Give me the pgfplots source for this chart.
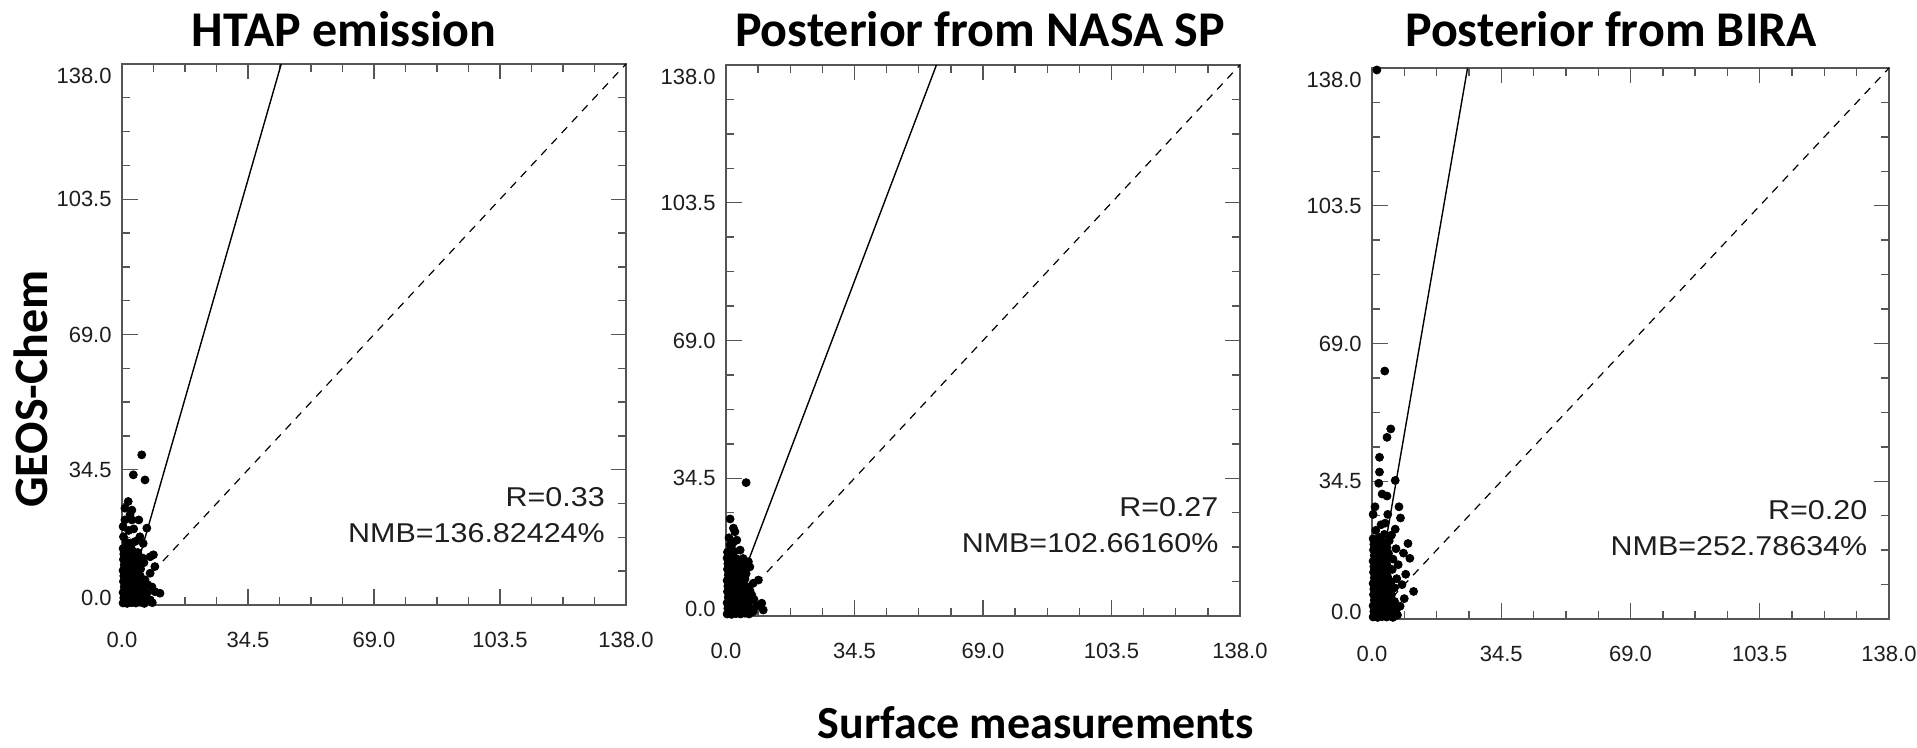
\documentclass[border=0pt]{standalone}
\usepackage{fontspec}
\setmainfont{Liberation Sans}
\newfontfamily\calibri{Carlito}
\newfontfamily\widefont{Liberation Sans}[FakeStretch=1.12]
\usepackage{pgfplots}
\pgfplotsset{compat=1.18}
\definecolor{axgray}{RGB}{85,85,85}
\definecolor{txt}{RGB}{30,30,30}

\pgfplotsset{
  scat/.style={
    scale only axis, clip=false,
    xmin=0, xmax=138, ymin=0, ymax=138,
    xtick={0,34.5,69,103.5,138}, ytick={0,34.5,69,103.5,138},
    xticklabels={0.0,34.5,69.0,103.5,138.0},
    yticklabels={\raisebox{3.75pt}[\height][\depth]{0.0},34.5,69.0,103.5,\raisebox{-6pt}[\height][\depth]{138.0}},
    minor tick num=3,
    tick align=inside, tick pos=both,
    major tick length=7.75pt, minor tick length=4pt,
    axis line style={axgray, line width=0.7pt},
    every tick/.style={axgray, line width=0.7pt},
    ticklabel style={font=\fontsize{11}{12}\selectfont, text=txt, inner sep=0pt},
    xticklabel style={anchor=north, yshift=-13.5pt},
    yticklabel style={anchor=east, xshift=-5pt},
  },
  fit/.style={black, line width=0.7pt},
  oneone/.style={black, line width=0.6pt, dash pattern=on 4pt off 3.5pt},
  dots/.style={only marks, mark=*, mark size=2pt, black},
}
\tikzset{stat/.style={anchor=base east, inner sep=0pt, font=\widefont\fontsize{13.6}{15}\selectfont, text=txt}}

\begin{document}
\begin{tikzpicture}
\useasboundingbox (0,0) rectangle (958.5pt,374pt);

% panel 1
\begin{axis}[scat, at={(61pt,71.5pt)}, anchor=south west, width=252pt, height=270.5pt]
\addplot[fit] coordinates {(1.02,0) (43.6,138)};
\addplot[oneone] coordinates {(0,0) (138,138)};
\addplot[dots] coordinates {
(0.3,0.5) (1.4,0.4) (2.6,0.6) (3.8,0.5) (5.0,0.7) (6.1,0.4)
(0.5,1.8) (1.7,1.9) (2.9,1.7) (4.1,2.0) (5.3,1.8) (6.4,2.1)
(0.3,3.2) (1.5,3.3) (2.7,3.1) (3.9,3.4) (5.1,3.2) (6.2,3.5)
(0.6,4.6) (1.8,4.7) (3.0,4.5) (4.2,4.8) (5.4,4.6)
(0.4,6.0) (1.6,6.1) (2.8,5.9) (4.0,6.2) (5.2,6.0)
(0.5,7.4) (1.7,7.5) (2.9,7.3) (4.1,7.6) (5.0,7.4)
(0.3,8.8) (1.5,8.9) (2.7,8.7) (3.9,9.0) (5.1,9.2)
(0.6,10.2) (1.8,10.3) (3.0,10.1) (4.1,10.4)
(0.4,11.6) (1.6,11.7) (2.8,11.5) (3.9,11.8)
(0.5,13.0) (1.7,13.1) (2.9,12.9) (4.3,13.4)
(0.3,14.4) (1.5,14.5) (2.6,14.3)
(6.3,6.4) (7.7,8.1) (6.8,3.0) (9.0,3.4) (10.4,3.0) (7.7,1.3) (9.0,9.8)
(8.6,12.8) (7.7,12.3) (5.8,15.7) (4.9,17.4) (0.4,17.4) (1.2,16.0) (2.4,15.8)
(3.6,16.2) (6.8,19.6) (0.8,21.7) (2.7,21.7) (4.6,21.7) (0.8,24.7) (2.7,24.2)
(1.7,26.4) (6.3,31.9) (3.1,33.2) (5.4,38.3) (1.8,19.0) (3.2,19.4) (6.0,10.8)
(5.6,12.0) (7.0,5.2) (8.2,4.6) (0.3,20.0) (8.3,0.6) (2.2,23.0)
};
\node[stat] at (axis cs:132.3,25) {R=0.33};
\node[stat] at (axis cs:132.3,16) {NMB=136.82424\%};
\end{axis}

% panel 2
\begin{axis}[scat, at={(363pt,66pt)}, anchor=south west, width=257pt, height=275.5pt]
\addplot[fit] coordinates {(0.39,0) (56.5,138)};
\addplot[oneone] coordinates {(0,0) (138,138)};
\addplot[dots] coordinates {
(0.3,0.5) (1.5,0.4) (2.7,0.6) (3.9,0.5) (5.1,0.7) (6.2,0.5)
(0.5,1.9) (1.7,1.8) (2.9,2.0) (4.1,1.9) (5.3,2.1) (6.5,1.8)
(0.3,3.3) (1.5,3.4) (2.7,3.2) (3.9,3.5) (5.1,3.3) (6.3,3.6)
(0.6,4.7) (1.8,4.8) (3.0,4.6) (4.2,4.9) (5.4,4.7)
(0.4,6.1) (1.6,6.2) (2.8,6.0) (4.0,6.3) (5.2,6.1) (6.4,6.4)
(0.5,7.5) (1.7,7.6) (2.9,7.4) (4.1,7.7) (5.3,7.5)
(0.3,8.9) (1.5,9.0) (2.7,8.8) (3.9,9.1) (5.1,9.3)
(0.6,10.3) (1.8,10.4) (3.0,10.2) (4.2,10.5) (5.4,10.6)
(0.4,11.7) (1.6,11.8) (2.8,11.6) (4.0,11.9) (5.0,12.2)
(0.5,13.1) (1.7,13.2) (2.9,13.0) (3.9,13.6)
(0.3,14.5) (1.5,14.6) (2.7,14.4)
(4.6,14.4) (6.0,13.6) (6.4,12.3) (8.7,9.0) (7.3,8.2) (6.9,5.3) (7.5,4.2)
(9.6,3.2) (10.0,1.5) (7.3,1.1) (8.3,2.6) (3.8,16.5) (1.1,17.8) (2.2,16.2)
(0.4,16.0) (2.9,19.0) (2.0,22.0) (2.4,21.1) (1.1,24.3) (5.4,33.4) (0.8,19.6)
(1.8,18.2)
};
\node[stat] at (axis cs:132.3,25) {R=0.27};
\node[stat] at (axis cs:132.3,16) {NMB=102.66160\%};
\end{axis}

% panel 3
\begin{axis}[scat, at={(686pt,64.5pt)}, anchor=south west, width=258.5pt, height=275.5pt]
\addplot[fit] coordinates {(0.1,0) (25.5,138)};
\addplot[oneone] coordinates {(0,0) (138,138)};
\addplot[dots] coordinates {
(0.3,0.5) (1.5,0.4) (2.7,0.6) (3.9,0.5) (5.1,0.7)
(0.5,1.9) (1.7,1.8) (2.9,2.0) (4.1,1.9) (5.3,2.1) (6.5,2.4)
(0.3,3.3) (1.5,3.4) (2.7,3.2) (3.9,3.5) (5.1,3.3)
(0.6,4.7) (1.8,4.8) (3.0,4.6) (4.2,4.9) (6.0,4.4)
(0.4,6.1) (1.6,6.2) (2.8,6.0) (4.0,6.3) (5.2,6.1)
(0.5,7.5) (1.7,7.6) (2.9,7.4) (4.1,7.7) (6.0,7.8)
(0.3,8.9) (1.5,9.0) (2.7,8.8) (3.9,9.1) (5.1,9.3)
(0.6,10.3) (1.8,10.4) (3.0,10.2) (4.2,10.5) (6.6,10.1)
(0.4,11.7) (1.6,11.8) (2.8,11.6) (4.0,11.9) (5.4,12.4)
(0.5,13.1) (1.7,13.2) (2.9,13.0) (4.1,13.3) (7.0,13.6)
(0.3,14.5) (1.5,14.6) (2.7,14.4) (3.9,14.7) (5.6,15.0)
(0.6,15.9) (1.8,16.0) (3.0,15.8) (4.4,16.4)
(0.4,17.3) (1.6,17.4) (2.8,17.2) (4.0,17.9) (6.4,17.6)
(0.5,18.7) (1.7,18.8) (3.1,19.2) (4.6,19.6)
(0.3,20.1) (2.0,20.4) (3.3,21.2) (5.2,21.0)
(8.6,5.1) (11.1,6.9) (7.5,3.2) (8.0,8.6) (9.0,11.2) (10.1,15.2) (9.6,18.9)
(8.4,16.5) (6.2,22.5) (7.6,25.3) (4.2,26.2) (0.3,26.2) (7.2,28.1) (0.8,28.1)
(2.7,31.3) (4.0,30.8) (1.8,34.0) (6.2,34.7) (2.0,36.8) (2.0,40.5) (4.0,45.5)
(5.0,47.6) (3.4,62.1) (1.3,137.5) (2.4,23.6) (1.0,22.2) (3.5,24.0) (5.6,0.4)
(6.8,1.0)
};
\node[stat] at (axis cs:132.3,25) {R=0.20};
\node[stat] at (axis cs:132.3,16) {NMB=252.78634\%};
\end{axis}

% titles and shared labels
\begin{scope}[every node/.style={font=\calibri\bfseries\fontsize{25}{28}\selectfont, text=black}]
\node[anchor=base] at (172pt,350.5pt) {HTAP emission};
\node[anchor=base] at (490pt,350.5pt) {Posterior from NASA SP};
\node[anchor=base] at (805.5pt,350.5pt) {Posterior from BIRA};
\node[rotate=90, font=\calibri\bfseries\fontsize{24}{28}\selectfont] at (15.3pt,179.5pt) {GEOS-Chem};
\node[anchor=base, font=\calibri\bfseries\fontsize{23}{28}\selectfont] at (518pt,4.5pt) {Surface measurements};
\end{scope}
\end{tikzpicture}
\end{document}
